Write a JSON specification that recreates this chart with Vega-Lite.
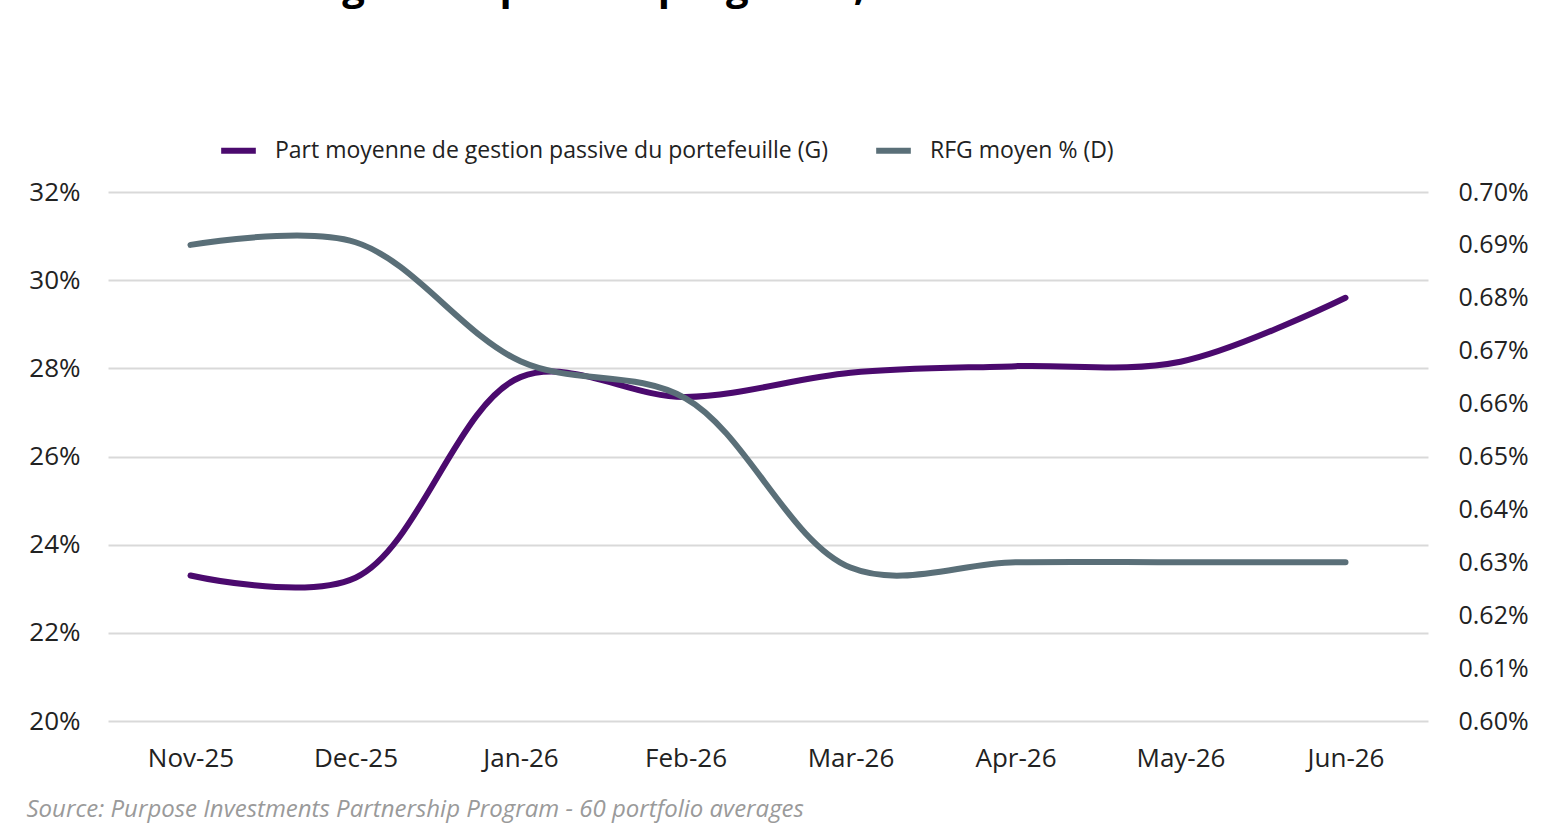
{
  "$schema": "https://vega.github.io/schema/vega-lite/v6.json",
  "autosize": {"type": "none"},
  "width": 1320,
  "height": 529,
  "padding": {"left": 108, "top": 192, "right": 132, "bottom": 108},
  "background": "white",
  "config": {"font": "Open Sans", "view": {"stroke": null}},
  "title": {
    "text": "La gestion passive progresse, les frais diminuent",
    "fontSize": 40, "fontWeight": "bold", "font": "Open Sans", "color": "black",
    "anchor": "middle", "offset": 122
  },
  "data": {"values": [
    {"mois": "Nov-25", "passive": 23.3, "rfg": 0.690},
    {"mois": "Dec-25", "passive": 23.25, "rfg": 0.6905},
    {"mois": "Jan-26", "passive": 27.8, "rfg": 0.668},
    {"mois": "Feb-26", "passive": 27.35, "rfg": 0.661},
    {"mois": "Mar-26", "passive": 27.9, "rfg": 0.629},
    {"mois": "Apr-26", "passive": 28.05, "rfg": 0.630},
    {"mois": "May-26", "passive": 28.15, "rfg": 0.630},
    {"mois": "Jun-26", "passive": 29.6, "rfg": 0.630}
  ]},
  "encoding": {
    "x": {
      "field": "mois", "type": "ordinal", "sort": null,
      "scale": {"type": "point", "padding": 0.5},
      "axis": {
        "title": "Source: Purpose Investments Partnership Program - 60 portfolio averages",
        "titleAnchor": "start", "titleAlign": "left", "titleX": -82, "titleY": 76,
        "titleFontStyle": "italic", "titleFontWeight": "normal", "titleFontSize": 24, "titleColor": "#9a9a9a",
        "labelAngle": 0, "labelFontSize": 26, "labelColor": "#222", "labelPadding": 24,
        "domain": false, "ticks": false, "grid": false
      }
    }
  },
  "layer": [
    {
      "mark": {"type": "line", "interpolate": "catmull-rom", "strokeWidth": 6, "strokeCap": "round"},
      "encoding": {
        "y": {
          "field": "passive", "type": "quantitative",
          "scale": {"domain": [20, 32]},
          "axis": {
            "title": null, "values": [20, 22, 24, 26, 28, 30, 32], "labelExpr": "datum.value + '%'",
            "labelFontSize": 26, "labelColor": "#222", "labelPadding": 28,
            "domain": false, "ticks": false, "gridColor": "#d9d9d9", "gridWidth": 2
          }
        },
        "color": {
          "datum": "Part moyenne de gestion passive du portefeuille (G)",
          "type": "nominal",
          "scale": {
            "domain": ["Part moyenne de gestion passive du portefeuille (G)", "RFG moyen % (D)"],
            "range": ["#4b0a6e", "#5a6f78"]
          },
          "legend": {
            "title": null, "orient": "none", "direction": "horizontal", "legendX": 110, "legendY": -62,
            "labelFontSize": 23, "labelColor": "#222", "labelLimit": 0, "symbolType": "stroke",
            "symbolStrokeWidth": 6, "symbolSize": 1200, "columnPadding": 36, "labelOffset": 16
          }
        }
      }
    },
    {
      "mark": {"type": "line", "interpolate": "catmull-rom", "strokeWidth": 6, "strokeCap": "round"},
      "encoding": {
        "y": {
          "field": "rfg", "type": "quantitative",
          "scale": {"domain": [0.60, 0.70]},
          "axis": {
            "orient": "right", "title": null,
            "values": [0.60, 0.61, 0.62, 0.63, 0.64, 0.65, 0.66, 0.67, 0.68, 0.69, 0.70],
            "labelExpr": "format(datum.value, '.2f') + '%'", "labelOverlap": false,
            "labelFontSize": 25, "labelColor": "#222", "labelPadding": 30,
            "domain": false, "ticks": false, "grid": false
          }
        },
        "color": {"datum": "RFG moyen % (D)", "type": "nominal"}
      }
    }
  ],
  "resolve": {"scale": {"y": "independent"}}
}
